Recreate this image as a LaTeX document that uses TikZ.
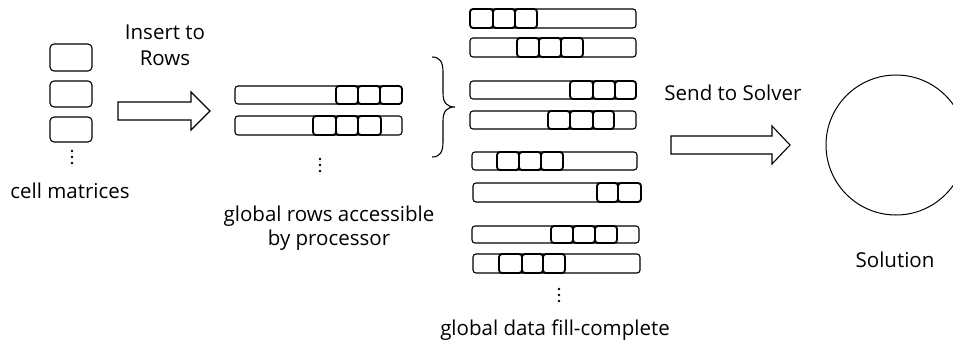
\documentclass[tikz,border=0pt]{standalone}
\usepackage{fontspec}
\setmainfont{Open Sans}
\newcommand\myrow[6]{%
  \draw[rowbox] (#1,#3) rectangle (#2,#4);
  \foreach \a/\b in {#5} {\draw[cellbox] (\a,#3) rectangle (\b,#4);}
}
\begin{document}
\begin{tikzpicture}[x=1pt,y=-1pt,
  rowbox/.style={draw,rounded corners=3pt,line width=1.1pt},
  cellbox/.style={draw,rounded corners=3pt,line width=1.8pt},
  cellsmall/.style={draw,rounded corners=4pt,line width=1.1pt},
  lbl/.style={font=\fontsize{20.5}{24}\selectfont,align=center,inner sep=0pt},
  blockarrow/.style={draw,line width=1.1pt,line join=miter},
  dot/.style={fill,circle,inner sep=0pt,minimum size=2.6pt}]
\useasboundingbox (0,0) rectangle (953,349);
% cell matrices
\draw[cellsmall] (50,44) rectangle (92,71);
\draw[cellsmall] (50,81) rectangle (92,107);
\draw[cellsmall] (50,117) rectangle (92,142);
\foreach \y in {151,157,163} \node[dot] at (72,\y) {};
\node[lbl] (cm) at (70,191) {cell matrices};
% insert to rows
\node[lbl] (ins) at (165,45) {Insert to\\[2pt]Rows};
\draw[blockarrow] (118,102) -- (191,102) -- (191,92) -- (210,111) -- (191,130) -- (191,120) -- (118,120) -- cycle;
% global rows
\myrow{235}{402}{86}{104}{336/358,358/380,380/402}{}
\myrow{235}{402}{116}{135}{313/336,336/358,358/381}{}
\foreach \y in {159,165,171} \node[dot] at (320,\y) {};
\node[lbl] (gr) at (329,228) {global rows accessible\\[0pt]by processor};
% brace
\draw[line width=1.1pt] (432,57) .. controls (440,57) and (443,62) .. (443,72) -- (443,93)
  .. controls (443,103) and (447,107) .. (455,107)
  .. controls (447,107) and (443,111) .. (443,121) -- (443,142)
  .. controls (443,152) and (440,157) .. (432,157);
% global data
\myrow{470}{636}{9}{28}{470/493,493/515,515/537}{}
\myrow{470}{636}{38}{57}{517/539,539/561,561/583}{}
\myrow{470}{636}{81}{99}{570/593,593/615,615/636}{}
\myrow{470}{636}{111}{129}{548/570,570/593,593/614}{}
\myrow{472}{637}{152}{170}{497/519,519/541,541/563}{}
\myrow{473}{641}{183}{202}{597/618,618/641}{}
\myrow{472}{639}{226}{243}{551/573,573/595,595/617}{}
\myrow{473}{640}{254}{273}{499/522,522/543,543/565}{}
\foreach \y in {289,295,301} \node[dot] at (559,\y) {};
\node[lbl] (gd) at (555,330) {global data fill-complete};
% send to solver
\node[lbl] (sts) at (733,93) {Send to Solver};
\draw[blockarrow] (671,136) -- (772,136) -- (772,126) -- (790,145) -- (772,164) -- (772,154) -- (671,154) -- cycle;
% solution
\draw[line width=1pt] (896,145) circle (70);
\node[lbl] (sol) at (895,260) {Solution};
\end{tikzpicture}
\end{document}
